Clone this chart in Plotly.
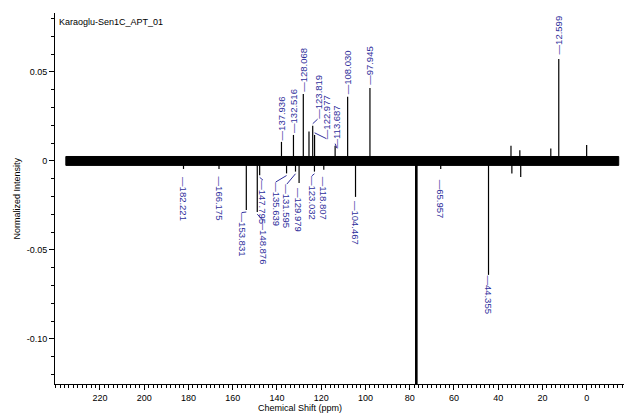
import plotly.graph_objects as go

# ---------------- data ----------------
title_text = "Karaoglu-Sen1C_APT_01"
x_title = "Chemical Shift (ppm)"
y_title = "Normalized Intensity"

spectrum_start_ppm = 235.4
spectrum_end_ppm = -14.5
noise_level = 0.0025

# labelled positive peaks
pos_ppm = [137.936, 132.516, 128.068, 123.819, 122.977, 113.687, 108.030, 97.945, 12.599]
pos_int = [0.0107, 0.0146, 0.0376, 0.0197, 0.0146, 0.0085, 0.0360, 0.0410, 0.0573]

# labelled negative peaks
neg_ppm = [182.221, 166.175, 153.831, 148.876, 147.795, 135.639, 131.595, 129.979,
           123.032, 118.807, 104.467, 65.957, 44.355]
neg_int = [-0.0045, -0.0045, -0.0275, -0.0287, -0.0080, -0.0070, -0.0060, -0.0124,
           -0.0060, -0.0050, -0.0202, -0.0045, -0.0640]

# unlabelled small peaks
extra_ppm = [125.5, 34.2, 33.8, 30.2, 29.8, 16.2, 0.0]
extra_int = [0.0165, 0.0085, -0.0070, 0.0060, -0.0090, 0.0070, 0.0090]

# solvent (CDCl3) lines, off scale
solvent_ppm = [77.16, 77.00, 76.84]
solvent_int = [-0.20, -0.20, -0.20]

# label placement (ppm, intensity of label end nearest the peak)
pos_label_ppm = [137.936, 132.516, 128.068, 121.6, 117.6, 112.9, 108.030, 97.945, 12.599]
pos_label_y = [0.0118, 0.0160, 0.0390, 0.0235, 0.0125, 0.0072, 0.0372, 0.0430, 0.0600]
neg_label_ppm = [182.221, 166.175, 155.8, 146.3, 146.3, 140.5, 135.5, 129.979,
                 124.2, 118.807, 104.467, 65.957, 44.355]
neg_label_y = [-0.0088, -0.0088, -0.0290, -0.0335, -0.0108, -0.0118, -0.0130, -0.0152,
               -0.0084, -0.0090, -0.0222, -0.0107, -0.0643]

x_tick_vals = [220, 200, 180, 160, 140, 120, 100, 80, 60, 40, 20, 0, -20]
x_tick_text = ["220", "200", "180", "160", "140", "120", "100", "80", "60", "40", "20", "0", "-20"]
y_tick_vals = [0.05, 0, -0.05, -0.10]
y_tick_text = ["0.05", "0", "-0.05", "-0.10"]

x_range = [240.3, -20.5]
y_range = [-0.1253, 0.0831]

label_color = "#2f2f9c"
font_family = "Liberation Sans, Arial, sans-serif"

# ---------------- figure ----------------
fig = go.Figure()

# baseline noise band
fig.add_trace(go.Scatter(
    x=[spectrum_start_ppm, spectrum_end_ppm, spectrum_end_ppm, spectrum_start_ppm, spectrum_start_ppm],
    y=[-noise_level, -noise_level, noise_level, noise_level, -noise_level],
    mode="lines", fill="toself", fillcolor="black",
    line=dict(color="black", width=1), hoverinfo="skip"))


def stick_xy(ppms, ints):
    xs, ys = [], []
    for p, h in zip(ppms, ints):
        xs += [p, p, None]
        ys += [0, h, None]
    return xs, ys


all_ppm = pos_ppm + neg_ppm + extra_ppm
all_int = pos_int + neg_int + extra_int
sx, sy = stick_xy(all_ppm, all_int)
fig.add_trace(go.Scatter(x=sx, y=sy, mode="lines",
                         line=dict(color="black", width=1.2), hoverinfo="skip"))

vx, vy = stick_xy(solvent_ppm, solvent_int)
fig.add_trace(go.Scatter(x=vx, y=vy, mode="lines",
                         line=dict(color="black", width=1.8), hoverinfo="skip"))

# connectors for shifted labels
cx, cy = [], []
for p, h, lp, ly in list(zip(pos_ppm, pos_int, pos_label_ppm, pos_label_y)) + \
        list(zip(neg_ppm, neg_int, neg_label_ppm, neg_label_y)):
    if abs(lp - p) > 0.3:
        sgn = 1 if h > 0 else -1
        cx += [p, lp, None]
        cy += [h + sgn * 0.0012, ly, None]
fig.add_trace(go.Scatter(x=cx, y=cy, mode="lines",
                         line=dict(color=label_color, width=1), hoverinfo="skip"))

annotations = []
for p, lp, ly in zip(pos_ppm, pos_label_ppm, pos_label_y):
    annotations.append(dict(x=lp, y=ly, xref="x", yref="y", text="\u2014" + f"{p:.3f}",
                            textangle=-90, showarrow=False, xanchor="center", yanchor="bottom",
                            borderpad=0, borderwidth=0,
                            font=dict(family=font_family, size=9.5, color=label_color)))
for p, lp, ly in zip(neg_ppm, neg_label_ppm, neg_label_y):
    annotations.append(dict(x=lp, y=ly, xref="x", yref="y", text="\u2014" + f"{p:.3f}",
                            textangle=90, showarrow=False, xanchor="center", yanchor="top",
                            borderpad=0, borderwidth=0,
                            font=dict(family=font_family, size=9.5, color=label_color)))

annotations.append(dict(x=0.003, y=1, xref="paper", yref="paper", text=title_text,
                        showarrow=False, xanchor="left", yanchor="top", yshift=-2,
                        font=dict(family=font_family, size=9, color="black")))
annotations.append(dict(x=0.4246, y=-0.0647, xref="paper", yref="paper", text=x_title,
                        showarrow=False, xanchor="center", yanchor="middle",
                        font=dict(family=font_family, size=9, color="black")))
annotations.append(dict(x=-0.066, y=0.5, xref="paper", yref="paper", text=y_title,
                        textangle=-90, showarrow=False, xanchor="center", yanchor="middle",
                        font=dict(family=font_family, size=9, color="black")))

# the page body has an 8px default margin; the figure is sized so that it
# fills the 632x415 window from that offset
fig.update_layout(
    width=624, height=407,
    margin=dict(l=47, r=0, t=5, b=31),
    plot_bgcolor="white", paper_bgcolor="white",
    showlegend=False,
    font=dict(family=font_family, size=9, color="black"),
    annotations=annotations,
)
fig.update_xaxes(range=x_range, automargin=False, showgrid=False, zeroline=False,
                 showline=True, linecolor="black", linewidth=1,
                 ticks="outside", ticklen=5, tickwidth=1, tickcolor="black",
                 tickmode="array", tickvals=x_tick_vals, ticktext=x_tick_text,
                 tickfont=dict(family=font_family, size=9, color="black"),
                 minor=dict(ticks="outside", ticklen=3, tickwidth=1, tickcolor="black",
                            tickmode="linear", tick0=0, dtick=2, showgrid=False))
fig.update_yaxes(range=y_range, automargin=False, showgrid=False, zeroline=False,
                 showline=True, linecolor="black", linewidth=1,
                 ticks="outside", ticklen=5, tickwidth=1, tickcolor="black",
                 tickmode="array", tickvals=y_tick_vals, ticktext=y_tick_text,
                 tickfont=dict(family=font_family, size=9, color="black"),
                 minor=dict(ticks="outside", ticklen=3, tickwidth=1, tickcolor="black",
                            tickmode="linear", tick0=0, dtick=0.01, showgrid=False))

fig.write_html("out.html")
